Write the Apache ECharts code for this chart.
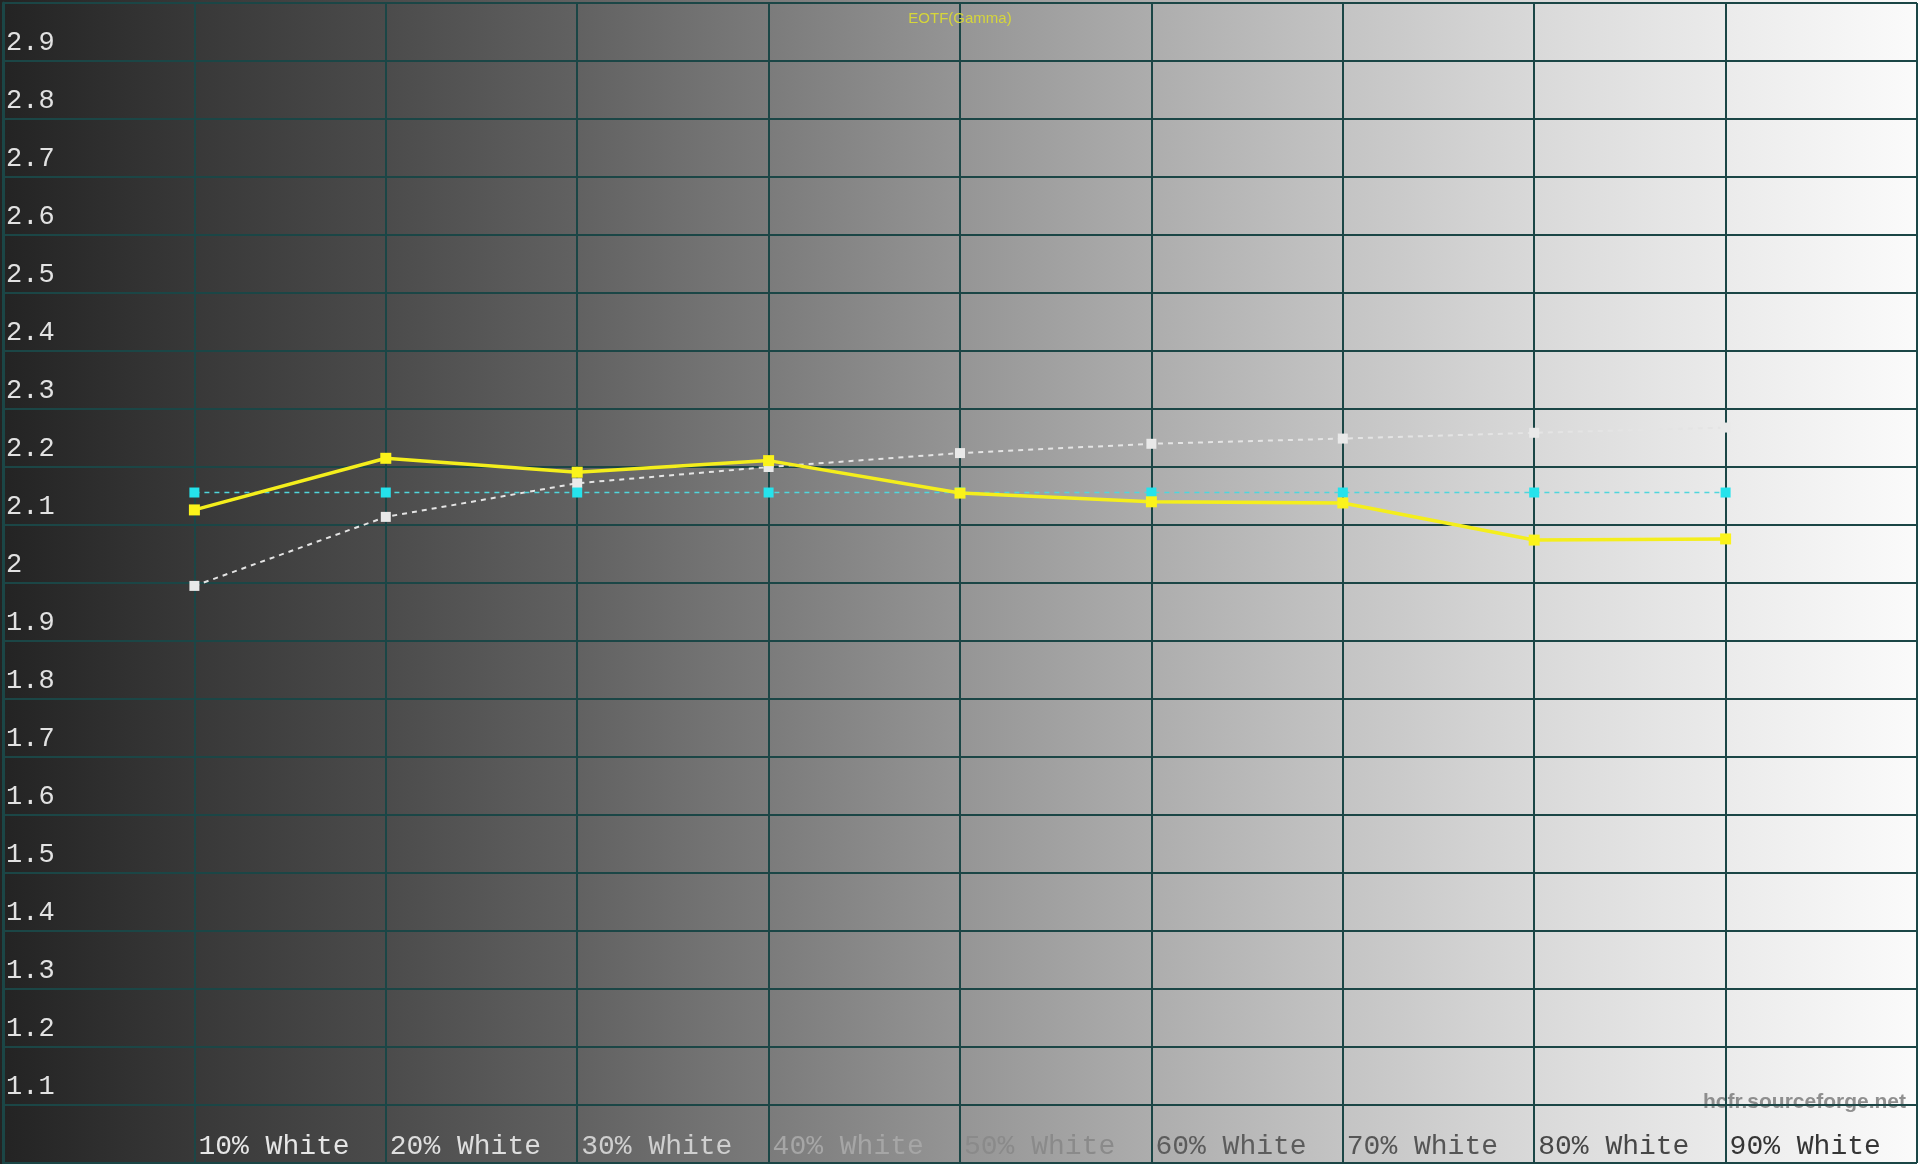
<!DOCTYPE html>
<html>
<head>
<meta charset="utf-8">
<script src="https://cdn.jsdelivr.net/npm/echarts@6/dist/echarts.min.js"></script>
<style>
  html, body { margin: 0; padding: 0; width: 1920px; height: 1164px; overflow: hidden; }
  #chart {
    width: 1920px; height: 1164px;
    background: linear-gradient(to right, #232323 0%, #383838 10%, #4b4b4b 20%, #616161 30%, #7b7b7b 40%, #959595 50%, #adadad 60%, #c4c4c4 70%, #d9d9d9 80%, #ebebeb 90%, #fbfbfb 100%);
  }
</style>
</head>
<body>
<div id="chart"></div>
<script>
// ---- data ----
const levels = [10, 20, 30, 40, 50, 60, 70, 80, 90];
const tickLabels = ['10% White', '20% White', '30% White', '40% White', '50% White', '60% White', '70% White', '80% White', '90% White'];
const referenceGamma = [1.995, 2.114, 2.172, 2.200, 2.224, 2.240, 2.249, 2.259, 2.268];
const targetGamma = [2.156, 2.156, 2.156, 2.156, 2.156, 2.156, 2.156, 2.156, 2.156];
const measuredGamma = [2.126, 2.215, 2.191, 2.211, 2.155, 2.140, 2.138, 2.074, 2.076];

const pair = arr => levels.map((x, i) => [x, arr[i]]);

// ---- style ----
const gridColor = '#1b4646';
const labelShades = ['#e6e6e6', '#dedede', '#cfcfcf', '#a6a6a6', '#8a8a8a', '#5c5c5c', '#555555', '#474747', '#353535'];

const chart = echarts.init(document.getElementById('chart'), null, { renderer: 'canvas' });
chart.setOption({
  backgroundColor: 'transparent',
  animation: false,
  title: {
    text: 'EOTF(Gamma)',
    left: 'center',
    top: 6,
    textStyle: { color: '#d6d63a', fontSize: 15, fontWeight: 'normal', fontFamily: 'Liberation Sans, Arial, sans-serif' }
  },
  grid: { left: 0, right: 0, top: 3, bottom: 1, containLabel: false },
  xAxis: {
    type: 'value',
    min: 0, max: 100, interval: 10,
    axisLine: { show: false },
    axisTick: { show: false },
    splitLine: { show: true, lineStyle: { color: gridColor, width: 2 } },
    axisLabel: {
      inside: true,
      margin: 2,
      align: 'left',
      verticalAlign: 'bottom',
      padding: [0, 0, 0, 4],
      fontFamily: 'Liberation Mono, DejaVu Sans Mono, monospace',
      fontSize: 28,
      formatter: v => {
        const i = levels.indexOf(Math.round(v));
        return i >= 0 ? tickLabels[i] : '';
      },
      color: (v) => {
        const i = levels.indexOf(Math.round(v));
        return i >= 0 ? labelShades[i] : 'transparent';
      }
    }
  },
  yAxis: {
    type: 'value',
    min: 1, max: 3, interval: 0.1,
    axisLine: { show: true, lineStyle: { color: gridColor, width: 3 } },
    axisTick: { show: false },
    splitLine: { show: true, lineStyle: { color: gridColor, width: 2 } },
    axisLabel: {
      inside: true,
      margin: 3,
      align: 'left',
      verticalAlign: 'bottom',
      padding: [0, 0, 5, 0],
      color: '#e2e2e2',
      fontFamily: 'Liberation Mono, DejaVu Sans Mono, monospace',
      fontSize: 27,
      formatter: v => {
        const r = Math.round(v * 10) / 10;
        if (r <= 1 || r >= 3) return '';
        return String(r);
      }
    }
  },
  series: [
    {
      name: 'Reference',
      type: 'line',
      data: pair(referenceGamma),
      symbol: 'rect', symbolSize: 10,
      itemStyle: { color: '#e9e9e9' },
      lineStyle: { color: '#e4e4e4', width: 2, type: [5, 5] },
      z: 2
    },
    {
      name: 'Target',
      type: 'line',
      data: pair(targetGamma),
      symbol: 'rect', symbolSize: 10,
      itemStyle: { color: '#25e3ec' },
      lineStyle: { color: '#4fd6dc', width: 1.5, type: [5, 5] },
      z: 3
    },
    {
      name: 'Measured',
      type: 'line',
      data: pair(measuredGamma),
      symbol: 'rect', symbolSize: 11,
      itemStyle: { color: '#fbf31a' },
      lineStyle: { color: '#f4ee1c', width: 3.5 },
      z: 4
    }
  ],
  graphic: [
    {
      type: 'text',
      right: 14,
      bottom: 51,
      style: {
        text: 'hcfr.sourceforge.net',
        fill: 'rgba(125,125,125,0.85)',
        font: 'bold 21px "Liberation Sans", Arial, sans-serif'
      }
    }
  ]
});
</script>
</body>
</html>
